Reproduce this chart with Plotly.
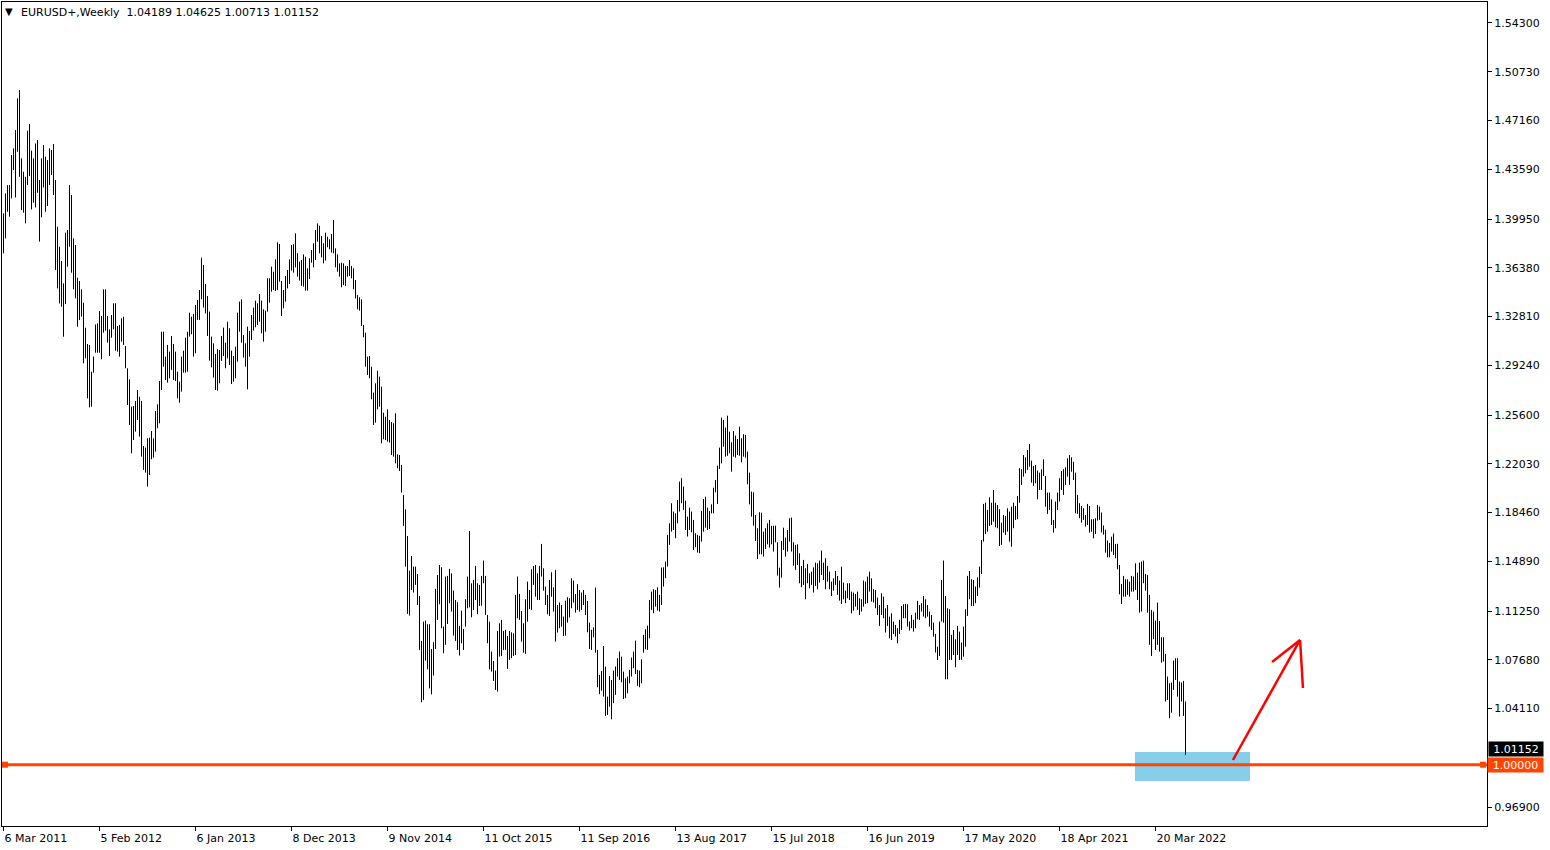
import pandas as pd
import plotly.graph_objects as go

# ---------------- data ----------------
symbol_label = "EURUSD+,Weekly"
first_week = "2011-03-06"          # date of the first weekly bar
last_ohlc = [1.04189, 1.04625, 1.00713, 1.01152]   # open, high, low, close of the last bar
support_level = 1.00000

weekly_high = [
    1.4036, 1.4182, 1.4243, 1.4243, 1.4463, 1.4512, 1.4646, 1.4878, 1.4939, 1.4439,
    1.4341, 1.4304, 1.4641, 1.4690, 1.4495, 1.4439, 1.4548, 1.4573, 1.4280, 1.4439,
    1.4536, 1.4451, 1.4426, 1.4512, 1.4500, 1.4544, 1.4280, 1.3938, 1.3792, 1.3687,
    1.3524, 1.3895, 1.3914, 1.4243, 1.4170, 1.3853, 1.3804, 1.3565, 1.3541, 1.3480,
    1.3382, 1.3199, 1.3080, 1.3072, 1.2877, 1.2987, 1.3223, 1.3231, 1.3321,
    1.3285, 1.3480, 1.3480, 1.3285, 1.3187, 1.3292, 1.3378, 1.3378, 1.3212, 1.3219,
    1.3268, 1.3280, 1.3065, 1.2902, 1.2821, 1.2621, 1.2626, 1.2663, 1.2743, 1.2694,
    1.2663, 1.2333, 1.2321, 1.2389, 1.2394, 1.2443, 1.2389, 1.2589, 1.2638, 1.2809,
    1.3170, 1.3170, 1.2987, 1.3073, 1.3024, 1.3138, 1.3080, 1.3024, 1.2877, 1.2804,
    1.2987, 1.3031, 1.3126, 1.3170, 1.3309, 1.3280, 1.3300, 1.3365, 1.3402, 1.3475,
    1.3712, 1.3658, 1.3519, 1.3431, 1.3317, 1.3134, 1.3085, 1.3007, 1.3041, 1.3036,
    1.3138, 1.3200, 1.3090, 1.3243, 1.3195, 1.3031, 1.2992, 1.3060, 1.3309, 1.3390,
    1.3407, 1.3146, 1.3085, 1.3207, 1.3175, 1.3292, 1.3346, 1.3397, 1.3378, 1.3446,
    1.3397, 1.3334, 1.3324, 1.3561, 1.3561, 1.3646, 1.3609, 1.3700, 1.3824, 1.3812,
    1.3541, 1.3475, 1.3578, 1.3622, 1.3700, 1.3805, 1.3810, 1.3890, 1.3744, 1.3683,
    1.3695, 1.3736, 1.3719, 1.3634, 1.3707, 1.3768, 1.3817, 1.3914, 1.3963, 1.3946,
    1.3870, 1.3817, 1.3895, 1.3866, 1.3846, 1.3885, 1.3988, 1.3780, 1.3736, 1.3670,
    1.3675, 1.3670, 1.3651, 1.3651, 1.3695, 1.3651, 1.3634, 1.3548, 1.3439, 1.3422,
    1.3407, 1.3219, 1.3163, 1.2987, 1.2992, 1.2914, 1.2724, 1.2792, 1.2885, 1.2841,
    1.2768, 1.2577, 1.2548, 1.2602, 1.2524, 1.2509, 1.2499, 1.2572, 1.2272, 1.2267,
    1.2194, 1.1975, 1.1870, 1.1674, 1.1421, 1.1528, 1.1450, 1.1450, 1.1396, 1.1235,
    1.0906, 1.1047, 1.1055, 1.1028, 1.1028, 1.0847, 1.0896, 1.1287, 1.1389, 1.1462,
    1.1445, 1.1011, 1.1377, 1.1382, 1.1433, 1.1401, 1.1274, 1.1206, 1.1189, 1.1016,
    1.1128, 1.0994, 1.1211, 1.1377, 1.1711, 1.1328, 1.1353, 1.1455, 1.1328, 1.1316,
    1.1382, 1.1494, 1.1382, 1.1096, 1.1047, 1.0828, 1.0759, 1.0689, 1.0979, 1.1035,
    1.1060, 1.0979, 1.0987, 1.0942, 1.0979, 1.0969, 1.0962, 1.1243, 1.1377, 1.1250,
    1.1125, 1.1035, 1.1211, 1.1340, 1.1279, 1.1431, 1.1455, 1.1462, 1.1401, 1.1455,
    1.1616, 1.1438, 1.1304, 1.1243, 1.1353, 1.1409, 1.1299, 1.1426, 1.1169, 1.1187,
    1.1169, 1.1084, 1.1201, 1.1226, 1.1218, 1.1365, 1.1348, 1.1250, 1.1321, 1.1279,
    1.1260, 1.1279, 1.1243, 1.1199, 1.1040, 1.0987, 1.1006, 1.1296, 1.0840, 1.0657,
    1.0686, 1.0869, 1.0718, 1.0498, 1.0650, 1.0620, 1.0689, 1.0718, 1.0779, 1.0828,
    1.0791, 1.0681, 1.0632, 1.0645, 1.0694, 1.0784, 1.0828, 1.0908, 1.0694, 1.0689,
    1.0772, 1.0950, 1.0991, 1.1018, 1.1206, 1.1267, 1.1284, 1.1279, 1.1299, 1.1243,
    1.1443, 1.1445, 1.1487, 1.1682, 1.1767, 1.1914, 1.1853, 1.1840, 1.1938, 1.2072,
    1.2097, 1.2036, 1.1933, 1.1816, 1.1882, 1.1853, 1.1792, 1.1694, 1.1682, 1.1675,
    1.1858, 1.1945, 1.1962, 1.1882, 1.1858, 1.1906, 1.2028, 1.2084, 1.2189, 1.2321,
    1.2541, 1.2524, 1.2468, 1.2555, 1.2438, 1.2360, 1.2443, 1.2409, 1.2384, 1.2475,
    1.2389, 1.2419, 1.2414, 1.2292, 1.2138, 1.1999, 1.1994, 1.1828, 1.1731, 1.1848,
    1.1845, 1.1706, 1.1731, 1.1767, 1.1792, 1.1748, 1.1750, 1.1750, 1.1628, 1.1442,
    1.1638, 1.1735, 1.1662, 1.1718, 1.1804, 1.1809, 1.1628, 1.1609, 1.1613, 1.1548,
    1.1455, 1.1499, 1.1438, 1.1470, 1.1401, 1.1413, 1.1445, 1.1479, 1.1474, 1.1494,
    1.1567, 1.1479, 1.1511, 1.1455, 1.1413, 1.1340, 1.1364, 1.1418, 1.1382, 1.1348,
    1.1450, 1.1333, 1.1274, 1.1328, 1.1328, 1.1267, 1.1260, 1.1250, 1.1267, 1.1218,
    1.1211, 1.1348, 1.1340, 1.1377, 1.1413, 1.1364, 1.1284, 1.1279, 1.1223, 1.1169,
    1.1255, 1.1230, 1.1145, 1.1169, 1.1084, 1.1108, 1.1047, 1.1023, 1.0999, 1.1060,
    1.1162, 1.1174, 1.1177, 1.1174, 1.1048, 1.1096, 1.1060, 1.1113, 1.1199, 1.1169,
    1.1182, 1.1235, 1.1211, 1.1169, 1.1121, 1.1096, 1.1040, 1.0957, 1.0864, 1.1048,
    1.1352, 1.1494, 1.1235, 1.1145, 1.1138, 1.0950, 1.0986, 1.0918, 1.1016, 1.0974,
    1.0894, 1.1011, 1.1138, 1.1382, 1.1418, 1.1357, 1.1352, 1.1304, 1.1372, 1.1450,
    1.1645, 1.1909, 1.1918, 1.1865, 1.1958, 1.1918, 1.2011, 1.1918, 1.1901, 1.1870,
    1.1772, 1.1828, 1.1821, 1.1877, 1.1853, 1.1889, 1.1918, 1.1894, 1.1967, 1.2170,
    1.2163, 1.2267, 1.2250, 1.2304, 1.2348, 1.2226, 1.2187, 1.2194, 1.2153, 1.2138,
    1.2163, 1.2236, 1.2114, 1.1992, 1.1992, 1.1943, 1.1792, 1.1926, 1.1992, 1.2097,
    1.2150, 1.2163, 1.2177, 1.2243, 1.2267, 1.2250, 1.2218, 1.2138, 1.1975, 1.1914,
    1.1894, 1.1877, 1.1828, 1.1909, 1.1894, 1.1797, 1.1797, 1.1804, 1.1901, 1.1889,
    1.1846, 1.1751, 1.1720, 1.1641, 1.1624, 1.1669, 1.1692, 1.1616,
    1.1617, 1.1462, 1.1323, 1.1382, 1.1357, 1.1357, 1.1340, 1.1382, 1.1377, 1.1474,
    1.1406, 1.1479, 1.1487, 1.1494, 1.1396, 1.1389, 1.1243, 1.1133, 1.1121, 1.1055,
    1.1187, 1.1052, 1.0933, 1.0933, 1.0811, 1.0645, 1.0596, 1.0601, 1.0762, 1.0779,
    1.0779, 1.0608, 1.0601, 1.0613, 1.04625,
]

weekly_low = [
    1.3743, 1.3853, 1.4048, 1.4012, 1.4146, 1.4353, 1.4153, 1.4487, 1.4304, 1.4060,
    1.4041, 1.3963, 1.4243, 1.4309, 1.4065, 1.4114, 1.4080, 1.4187, 1.3829, 1.4007,
    1.4226, 1.4048, 1.4090, 1.4243, 1.4317, 1.4170, 1.3621, 1.3487, 1.3377, 1.3353,
    1.3133, 1.3372, 1.3646, 1.3792, 1.3602, 1.3480, 1.3414, 1.3206, 1.3255, 1.3280,
    1.2938, 1.2975, 1.2682, 1.2616, 1.2621, 1.2870, 1.3016, 1.3016, 1.3016,
    1.2968, 1.3163, 1.3177, 1.3090, 1.2992, 1.3126, 1.3187, 1.3031, 1.3024, 1.2987,
    1.3097, 1.3073, 1.2902, 1.2633, 1.2487, 1.2280, 1.2377, 1.2438, 1.2524, 1.2402,
    1.2255, 1.2158, 1.2138, 1.2036, 1.2121, 1.2236, 1.2248, 1.2292, 1.2463, 1.2499,
    1.2743, 1.2914, 1.2816, 1.2797, 1.2828, 1.2890, 1.2816, 1.2809, 1.2682, 1.2650,
    1.2731, 1.2870, 1.2870, 1.2877, 1.3134, 1.3151, 1.2987, 1.3012, 1.3256, 1.3256,
    1.3407, 1.3346, 1.3304, 1.3138, 1.2958, 1.2909, 1.2834, 1.2743, 1.2738, 1.2792,
    1.2956, 1.2992, 1.2902, 1.2975, 1.2926, 1.2787, 1.2804, 1.2829, 1.2951, 1.3170,
    1.3090, 1.2980, 1.2914, 1.2748, 1.2987, 1.3109, 1.3178, 1.3202, 1.3219, 1.3243,
    1.3158, 1.3097, 1.3170, 1.3317, 1.3383, 1.3463, 1.3475, 1.3468, 1.3475, 1.3536,
    1.3285, 1.3341, 1.3390, 1.3487, 1.3519, 1.3617, 1.3602, 1.3641, 1.3573, 1.3544,
    1.3505, 1.3500, 1.3470, 1.3470, 1.3556, 1.3675, 1.3641, 1.3695, 1.3829, 1.3744,
    1.3714, 1.3670, 1.3690, 1.3788, 1.3773, 1.3749, 1.3744, 1.3641, 1.3609, 1.3573,
    1.3495, 1.3512, 1.3505, 1.3573, 1.3578, 1.3561, 1.3480, 1.3414, 1.3334, 1.3324,
    1.3212, 1.3129, 1.2914, 1.2853, 1.2829, 1.2675, 1.2487, 1.2504, 1.2602, 1.2621,
    1.2353, 1.2382, 1.2377, 1.2365, 1.2358, 1.2267, 1.2255, 1.2206, 1.2170, 1.2150,
    1.1992, 1.1748, 1.1450, 1.1104, 1.1091, 1.1279, 1.1260, 1.1316, 1.1169, 1.0840,
    1.0457, 1.0474, 1.0762, 1.0698, 1.0559, 1.0515, 1.0652, 1.0847, 1.1060, 1.1174,
    1.0999, 1.0816, 1.0877, 1.1030, 1.1182, 1.1121, 1.0945, 1.0906, 1.0840, 1.0799,
    1.0889, 1.0840, 1.1011, 1.1145, 1.1152, 1.1079, 1.1133, 1.1206, 1.1101, 1.1162,
    1.1164, 1.1328, 1.1096, 1.0889, 1.0698, 1.0681, 1.0613, 1.0547, 1.0535, 1.0791,
    1.0796, 1.0840, 1.0840, 1.0701, 1.0767, 1.0779, 1.0796, 1.0803, 1.1072, 1.1060,
    1.0901, 1.0820, 1.0811, 1.1047, 1.1138, 1.1133, 1.1316, 1.1230, 1.1206, 1.1206,
    1.1377, 1.1274, 1.1169, 1.1101, 1.1089, 1.1230, 1.1121, 1.0901, 1.0967, 1.0999,
    1.1011, 1.0942, 1.0945, 1.1040, 1.1077, 1.1145, 1.1187, 1.1113, 1.1133, 1.1121,
    1.1133, 1.1169, 1.1096, 1.0969, 1.0847, 1.0840, 1.0933, 1.0820, 1.0567, 1.0516,
    1.0542, 1.0498, 1.0357, 1.0364, 1.0425, 1.0332, 1.0450, 1.0511, 1.0645, 1.0620,
    1.0603, 1.0481, 1.0486, 1.0523, 1.0596, 1.0645, 1.0706, 1.0664, 1.0577, 1.0567,
    1.0596, 1.0820, 1.0845, 1.0840, 1.0925, 1.1133, 1.1108, 1.1157, 1.1128, 1.1121,
    1.1169, 1.1304, 1.1365, 1.1450, 1.1609, 1.1706, 1.1718, 1.1657, 1.1767, 1.1853,
    1.1914, 1.1865, 1.1718, 1.1670, 1.1718, 1.1701, 1.1572, 1.1592, 1.1553, 1.1548,
    1.1633, 1.1706, 1.1735, 1.1718, 1.1726, 1.1840, 1.1840, 1.1994, 1.1909, 1.2165,
    1.2206, 1.2328, 1.2255, 1.2262, 1.2280, 1.2145, 1.2255, 1.2248, 1.2267, 1.2262,
    1.2214, 1.2255, 1.2248, 1.2053, 1.1906, 1.1816, 1.1750, 1.1638, 1.1506, 1.1540,
    1.1540, 1.1523, 1.1579, 1.1613, 1.1589, 1.1613, 1.1560, 1.1628, 1.1384, 1.1296,
    1.1369, 1.1572, 1.1523, 1.1560, 1.1633, 1.1560, 1.1457, 1.1426, 1.1462, 1.1328,
    1.1299, 1.1316, 1.1211, 1.1328, 1.1291, 1.1316, 1.1260, 1.1308, 1.1284, 1.1333,
    1.1389, 1.1352, 1.1284, 1.1340, 1.1284, 1.1235, 1.1274, 1.1316, 1.1243, 1.1201,
    1.1177, 1.1211, 1.1182, 1.1218, 1.1206, 1.1108, 1.1128, 1.1157, 1.1133, 1.1096,
    1.1121, 1.1157, 1.1177, 1.1182, 1.1267, 1.1194, 1.1187, 1.1145, 1.1096, 1.1016,
    1.1096, 1.1072, 1.0967, 1.1016, 1.0925, 1.0913, 1.0957, 1.0938, 1.0889, 1.0957,
    1.0986, 1.1072, 1.1072, 1.1011, 1.0982, 1.0999, 1.0974, 1.0999, 1.1064, 1.1060,
    1.1121, 1.1084, 1.1072, 1.1084, 1.1011, 1.0986, 1.0938, 1.0821, 1.0767, 1.0796,
    1.1048, 1.1040, 1.0625, 1.0625, 1.0767, 1.0767, 1.0803, 1.0713, 1.0803, 1.0767,
    1.0767, 1.0791, 1.0864, 1.1089, 1.1211, 1.1162, 1.1162, 1.1182, 1.1235, 1.1296,
    1.1396, 1.1633, 1.1689, 1.1706, 1.1748, 1.1755, 1.1779, 1.1738, 1.1731, 1.1601,
    1.1609, 1.1699, 1.1682, 1.1706, 1.1633, 1.1596, 1.1731, 1.1792, 1.1797, 1.1918,
    1.2048, 1.2109, 1.2133, 1.2158, 1.2182, 1.2065, 1.2041, 1.2060, 1.1943, 1.2011,
    1.2011, 1.2114, 1.1889, 1.1836, 1.1865, 1.1755, 1.1699, 1.1731, 1.1865, 1.1926,
    1.2011, 1.1975, 1.2048, 1.2109, 1.2048, 1.2145, 1.2084, 1.1840, 1.1836, 1.1804,
    1.1772, 1.1792, 1.1743, 1.1755, 1.1699, 1.1706, 1.1657, 1.1689, 1.1787, 1.1792,
    1.1700, 1.1684, 1.1552, 1.1518, 1.1518, 1.1560, 1.1535, 1.1511,
    1.1430, 1.1247, 1.1177, 1.1230, 1.1230, 1.1243, 1.1230, 1.1267, 1.1267, 1.1279,
    1.1206, 1.1113, 1.1121, 1.1328, 1.1274, 1.1113, 1.0877, 1.0796, 1.0918, 1.0840,
    1.0877, 1.0828, 1.0747, 1.0755, 1.0462, 1.0474, 1.0340, 1.0381, 1.0547, 1.0620,
    1.0498, 1.0352, 1.0462, 1.0357, 1.00713,
]

price_ticks = [1.54300, 1.50730, 1.47160, 1.43590, 1.39950, 1.36380, 1.32810, 1.29240,
               1.25600, 1.22030, 1.18460, 1.14890, 1.11250, 1.07680, 1.04110, 0.96900]
date_ticks = ["2011-03-06", "2012-02-05", "2013-01-06", "2013-12-08", "2014-11-09",
              "2015-10-11", "2016-09-11", "2017-08-13", "2018-07-15", "2019-06-16",
              "2020-05-17", "2021-04-18", "2022-03-20"]

# user-drawn objects (time / price anchors)
zone_time = ["2022-01-07", "2023-02-14"]
zone_price = [0.98804, 1.00927]
arrow_tail = ("2022-12-16", 1.0034)
arrow_tip = ("2023-08-08", 1.0913)
arrow_barb_left = ("2023-05-02", 1.0752)
arrow_barb_right = ("2023-08-18", 1.0561)

# ---------------- layout constants ----------------
W, H = 1550, 850
M_L, M_R, M_T, M_B = 2, 63, 2, 24
PLOT_W = W - M_L - M_R
DAYS_PER_PX = 3.5                     # 2 px per weekly bar
y_range = [0.95509, 1.55837]

n = min(len(weekly_high), len(weekly_low))
d0 = pd.Timestamp(first_week)
dates = [d0 + pd.Timedelta(weeks=i) for i in range(n)]

x0 = d0 - pd.Timedelta(days=1.5 * DAYS_PER_PX)
x1 = x0 + pd.Timedelta(days=PLOT_W * DAYS_PER_PX)

xs, ys = [], []
for d, hi, lo in zip(dates, weekly_high[:n], weekly_low[:n]):
    xs += [d, d, None]
    ys += [lo, hi, None]

FONT = "DejaVu Sans"
LINE_RED = "#FF4500"

fig = go.Figure()
fig.add_trace(go.Scatter(x=xs, y=ys, mode="lines", line=dict(color="black", width=1),
                         hoverinfo="skip", showlegend=False, connectgaps=False))

# selection handles on the horizontal line
fig.add_trace(go.Scatter(
    x=[x0 + pd.Timedelta(days=3 * DAYS_PER_PX), x1 - pd.Timedelta(days=4 * DAYS_PER_PX)],
    y=[support_level, support_level], mode="markers",
    marker=dict(symbol="square", size=6, color=LINE_RED),
    cliponaxis=False, hoverinfo="skip", showlegend=False))

shapes = [
    dict(type="rect", xref="x", yref="y", x0=zone_time[0], x1=zone_time[1],
         y0=zone_price[0], y1=zone_price[1], fillcolor="#87CEEB",
         line=dict(width=0), layer="below"),
    dict(type="line", xref="paper", yref="y", x0=0, x1=1, y0=support_level, y1=support_level,
         line=dict(color=LINE_RED, width=3), layer="above"),
]
for (xa, ya), (xb, yb) in [(arrow_tail, arrow_tip), (arrow_tip, arrow_barb_left),
                           (arrow_tip, arrow_barb_right)]:
    shapes.append(dict(type="line", xref="x", yref="y", x0=xa, y0=ya, x1=xb, y1=yb,
                       line=dict(color="#FF0000", width=2.5), layer="above"))

annotations = [
    dict(xref="paper", yref="paper", x=0, y=1, xanchor="left", yanchor="top",
         text="\u25BC", showarrow=False, xshift=1, yshift=-2,
         font=dict(family=FONT, size=10, color="black")),
    dict(xref="paper", yref="paper", x=0, y=1, xanchor="left", yanchor="top",
         text=symbol_label + "\u00a0\u00a0" + " ".join(f"{v:.5f}" for v in last_ohlc),
         showarrow=False, xshift=17, yshift=-2,
         font=dict(family=FONT, size=11, color="black")),
    dict(xref="paper", yref="y", x=1, y=last_ohlc[3], xanchor="left", yanchor="middle",
         text=f"{last_ohlc[3]:.5f}", showarrow=False, xshift=1, bgcolor="black",
         width=52, height=12, borderpad=1,
         font=dict(family=FONT, size=11, color="white")),
    dict(xref="paper", yref="y", x=1, y=support_level, xanchor="left", yanchor="middle",
         text=f"{support_level:.5f}", showarrow=False, xshift=0, bgcolor=LINE_RED,
         width=53, height=12, borderpad=1,
         font=dict(family=FONT, size=11, color="white")),
]

date_ts = [pd.Timestamp(d) for d in date_ticks]
fig.update_layout(
    width=W, height=H, margin=dict(l=M_L, r=M_R, t=M_T, b=M_B, pad=0),
    paper_bgcolor="white", plot_bgcolor="white",
    font=dict(family=FONT, size=11, color="black"),
    showlegend=False, shapes=shapes, annotations=annotations,
    xaxis=dict(type="date", range=[x0, x1], showgrid=False, zeroline=False,
               showline=True, linecolor="black", linewidth=1, mirror=True,
               tickmode="array", tickvals=date_ts,
               ticktext=[f"{t.day} {t.strftime('%b %Y')}" for t in date_ts],
               ticks="outside", ticklen=4, tickcolor="black",
               ticklabelposition="outside right", ticklabelstandoff=2,
               tickfont=dict(family=FONT, size=11, color="black")),
    yaxis=dict(range=y_range, side="right", showgrid=False, zeroline=False,
               showline=True, linecolor="black", linewidth=1, mirror=True,
               tickmode="array", tickvals=price_ticks,
               ticktext=[f"{v:.5f}" for v in price_ticks],
               ticks="outside", ticklen=4, tickcolor="black",
               tickfont=dict(family=FONT, size=11, color="black")),
)

fig.write_html("out.html", config={"displayModeBar": False},
               post_script="document.body.style.margin='0';document.body.style.overflow='hidden';")
